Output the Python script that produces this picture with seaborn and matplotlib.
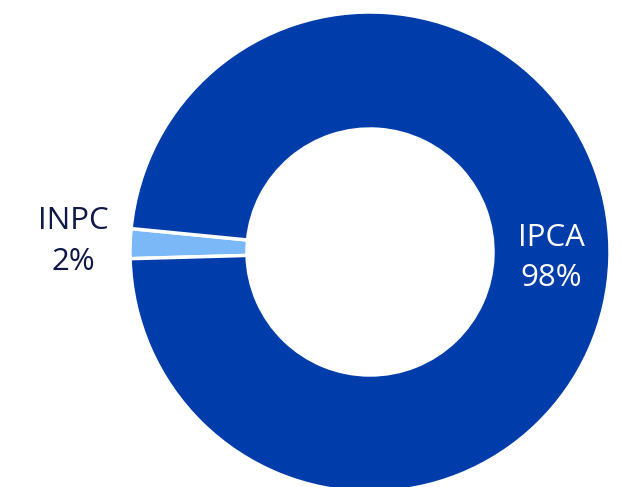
import matplotlib
matplotlib.use("Agg")
import matplotlib.pyplot as plt
import numpy as np
import seaborn as sns

sns.set_theme(style="white")
plt.rcParams["font.family"] = ["Open Sans", "DejaVu Sans"]

# Index share of the portfolio
categories = ["INPC", "IPCA"]
values = [2, 98]
colors = ["#7ab8f7", "#003caa"]
label_colors = ["#101848", "#ffffff"]
label_radius = [1.235, 0.755]

fig = plt.figure(figsize=(6.22, 4.87), dpi=100)
ax = fig.add_axes([130 / 622, -5 / 487, 480 / 622, 480 / 487])

wedges, _ = ax.pie(
    values,
    colors=colors,
    startangle=174.4,
    counterclock=True,
    radius=1.0,
    wedgeprops=dict(width=0.4875, edgecolor="white", linewidth=2.5),
)

total = sum(values)
for w, name, v, lc, lr in zip(wedges, categories, values, label_colors, label_radius):
    mid = np.deg2rad((w.theta1 + w.theta2) / 2)
    ax.text(lr * np.cos(mid), lr * np.sin(mid),
            f"{name}\n{round(100 * v / total)}%",
            ha="center", va="center", color=lc, fontsize=22.5,
            linespacing=1.45)

ax.set_xlim(-1, 1)
ax.set_ylim(-1, 1)
ax.set_aspect("equal")
ax.axis("off")
for w in wedges:
    w.set_clip_on(False)

fig.savefig("out.png", dpi=100)
